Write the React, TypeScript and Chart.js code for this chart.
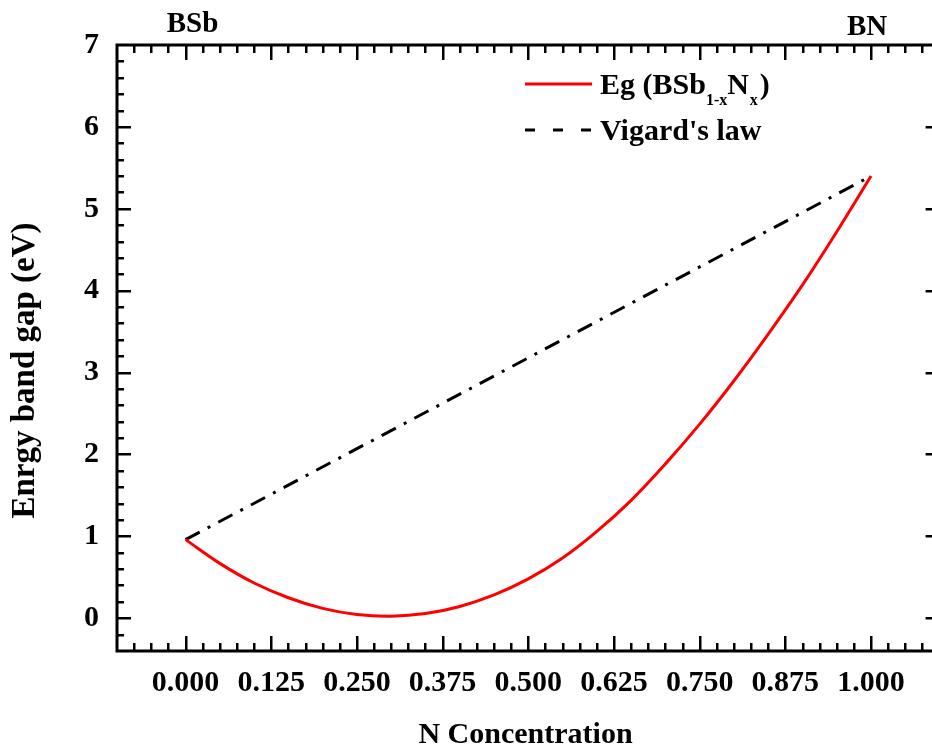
import React, { useEffect, useRef } from "react";
import { Chart, registerables } from "chart.js";

Chart.register(...registerables);

// ---- data ----
const X_VALUES = [0, 0.05, 0.1, 0.15, 0.2, 0.25, 0.3, 0.35, 0.4, 0.45, 0.5, 0.55, 0.6, 0.65, 0.7, 0.75, 0.8, 0.85, 0.9, 0.95, 1.0];
const EG_VALUES = [0.96, 0.67, 0.43, 0.25, 0.12, 0.045, 0.025, 0.057, 0.144, 0.285, 0.48, 0.735, 1.06, 1.44, 1.885, 2.37, 2.9, 3.47, 4.07, 4.72, 5.4];
const VEGARD_X = [0, 1];
const VEGARD_Y = [0.96, 5.4];

const X_TICKS = [0, 0.125, 0.25, 0.375, 0.5, 0.625, 0.75, 0.875, 1.0];
const Y_TICKS = [0, 1, 2, 3, 4, 5, 6, 7];
const X_MIN = -0.1;
const X_MAX = 1.1;
const Y_MIN = -0.4;
const Y_MAX = 7;
const X_MINOR_STEP = 0.025;
const Y_MINOR_STEP = 0.2;

const SERIES_LABELS = ["Eg (BSb1-xNx)", "Vigard's law"];
const X_TITLE = "N Concentration";
const Y_TITLE = "Enrgy band gap (eV)";
const LEFT_END_LABEL = "BSb";
const RIGHT_END_LABEL = "BN";

const FONT_FAMILY = '"Liberation Serif", "Times New Roman", serif';
const font = (size: number) => `bold ${size}px ${FONT_FAMILY}`;

const framePlugin = {
  id: "framePlugin",
  afterDraw(chart: any) {
    const ctx = chart.ctx as CanvasRenderingContext2D;
    const { left, right, top, bottom } = chart.chartArea;
    const xs = chart.scales.x;
    const ys = chart.scales.y;
    ctx.save();
    ctx.strokeStyle = "#000";
    ctx.fillStyle = "#000";
    ctx.lineCap = "butt";

    // ticks (inward)
    ctx.lineWidth = 2.5;
    const nx = Math.round((X_MAX - X_MIN) / X_MINOR_STEP);
    for (let i = 1; i < nx; i++) {
      const v = X_MIN + i * X_MINOR_STEP;
      const r = v / 0.125;
      const major = Math.abs(r - Math.round(r)) < 1e-6;
      const len = major ? 15 : 8;
      const px = Math.round(xs.getPixelForValue(v)) + 0.25;
      ctx.beginPath();
      ctx.moveTo(px, bottom);
      ctx.lineTo(px, bottom - len);
      ctx.moveTo(px, top);
      ctx.lineTo(px, top + len);
      ctx.stroke();
    }
    const ny = Math.round((Y_MAX - Y_MIN) / Y_MINOR_STEP);
    for (let i = 1; i < ny; i++) {
      const v = Y_MIN + i * Y_MINOR_STEP;
      const major = Math.abs(v - Math.round(v)) < 1e-6;
      const len = major ? 14 : 7;
      const py = Math.round(ys.getPixelForValue(v)) + 0.25;
      ctx.beginPath();
      ctx.moveTo(left, py);
      ctx.lineTo(left + len, py);
      ctx.moveTo(right, py);
      ctx.lineTo(right - len, py);
      ctx.stroke();
    }

    // frame
    ctx.lineWidth = 3;
    ctx.beginPath();
    ctx.moveTo(left, top);
    ctx.lineTo(right, top);
    ctx.lineTo(right, bottom);
    ctx.lineTo(left, bottom);
    ctx.closePath();
    ctx.stroke();

    // end labels
    ctx.font = font(29);
    ctx.textAlign = "center";
    ctx.textBaseline = "alphabetic";
    ctx.fillText(LEFT_END_LABEL, xs.getPixelForValue(0) + 7, 32);
    ctx.fillText(RIGHT_END_LABEL, xs.getPixelForValue(1) - 4, 35);

    // axis titles
    ctx.font = font(30);
    ctx.fillText(X_TITLE, (left + 936) / 2 - 1, 743);
    ctx.save();
    ctx.font = font(33);
    ctx.translate(34, 370.5);
    ctx.rotate(-Math.PI / 2);
    ctx.fillText(Y_TITLE, 0, 0);
    ctx.restore();

    // legend
    const lx0 = 525;
    const lx1 = 592;
    ctx.lineWidth = 3;
    ctx.strokeStyle = "#ff0000";
    ctx.beginPath();
    ctx.moveTo(lx0, 84);
    ctx.lineTo(lx1, 84);
    ctx.stroke();
    ctx.strokeStyle = "#000";
    ctx.setLineDash([10, 18]);
    ctx.beginPath();
    ctx.moveTo(lx0, 130);
    ctx.lineTo(lx1, 130);
    ctx.stroke();
    ctx.setLineDash([]);

    ctx.textAlign = "left";
    let tx = 600;
    const base1 = 94;
    const subBase = 105;
    const parts: [string, boolean, number][] = [["Eg (BSb", false, 0], ["1-x", true, 0], ["N", false, 1], ["x", true, 2], [")", false, 0]];
    for (const [t, sub, gap] of parts) {
      ctx.font = sub ? font(16) : font(30);
      ctx.fillText(t, tx, sub ? subBase : base1);
      tx += ctx.measureText(t).width + gap;
    }
    ctx.font = font(30);
    ctx.fillText(SERIES_LABELS[1], 600, 140);

    ctx.restore();
  },
};

export default function App() {
  const ref = useRef<HTMLCanvasElement | null>(null);

  useEffect(() => {
    if (!ref.current) return;
    const chart = new Chart(ref.current, {
      type: "line",
      data: {
        datasets: [
          {
            label: SERIES_LABELS[0],
            data: X_VALUES.map((x, i) => ({ x, y: EG_VALUES[i] })),
            borderColor: "#ff0000",
            borderWidth: 3,
            pointRadius: 0,
            tension: 0.4,
            fill: false,
          },
          {
            label: SERIES_LABELS[1],
            data: VEGARD_X.map((x, i) => ({ x, y: VEGARD_Y[i] })),
            borderColor: "#000000",
            borderWidth: 3,
            borderDash: [16, 9, 3, 9],
            pointRadius: 0,
            fill: false,
          },
        ],
      },
      options: {
        responsive: false,
        animation: false,
        devicePixelRatio: 1,
        layout: { padding: { top: 45, right: 20.4, left: 0, bottom: 0 } },
        plugins: {
          legend: { display: false },
          tooltip: { enabled: false },
          title: { display: false },
        },
        scales: {
          x: {
            type: "linear",
            min: X_MIN,
            max: X_MAX,
            grid: { display: false, drawTicks: false },
            border: { display: false },
            afterFit: (s: any) => {
              s.height = 98;
            },
            afterBuildTicks: (s: any) => {
              s.ticks = X_TICKS.map((v) => ({ value: v }));
            },
            ticks: {
              autoSkip: false,
              maxRotation: 0,
              minRotation: 0,
              padding: 14,
              color: "#000",
              font: { family: FONT_FAMILY, size: 30, weight: "bold" },
              callback: (v: any) => Number(v).toFixed(3),
            },
          },
          y: {
            type: "linear",
            min: Y_MIN,
            max: Y_MAX,
            grid: { display: false, drawTicks: false },
            border: { display: false },
            afterFit: (s: any) => {
              s.width = 117;
            },
            afterBuildTicks: (s: any) => {
              s.ticks = Y_TICKS.map((v) => ({ value: v }));
            },
            ticks: {
              autoSkip: false,
              padding: 18,
              color: "#000",
              font: { family: FONT_FAMILY, size: 30, weight: "bold" },
              callback: (v: any) => String(v),
            },
          },
        },
      },
      plugins: [framePlugin],
    } as any);
    return () => chart.destroy();
  }, []);

  return (
    <div
      style={{
        position: "fixed",
        left: 0,
        top: 0,
        width: 932,
        height: 749,
        overflow: "hidden",
        background: "#fff",
      }}
    >
      <canvas ref={ref} width={960} height={749} style={{ display: "block" }} />
    </div>
  );
}
